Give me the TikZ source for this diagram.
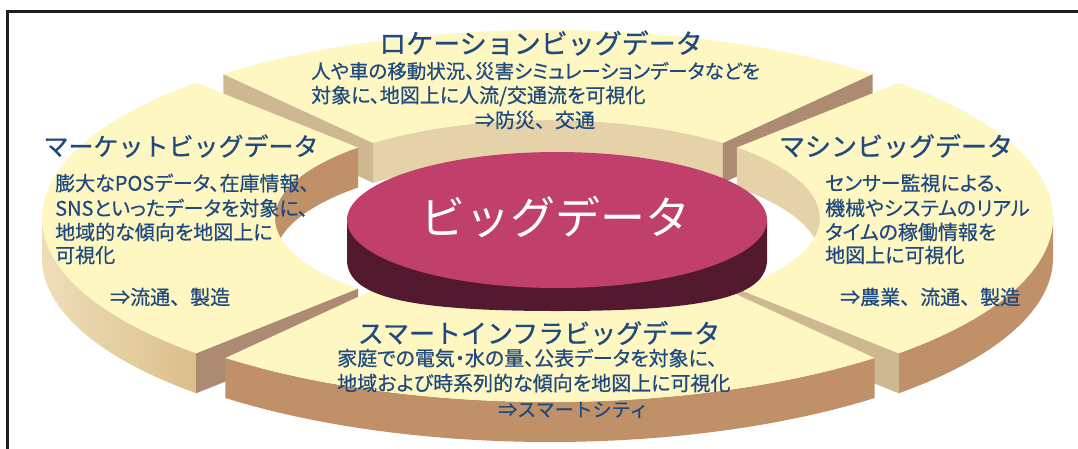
\documentclass[tikz,border=0pt]{standalone}
\usepackage{fontspec}
\setmainfont{Noto Sans CJK JP}
\newfontfamily\bodyjp{Noto Sans CJK JP}[RawFeature=+palt, FakeBold=0.6]
\newfontfamily\arrjp{Noto Sans CJK JP}[FakeBold=0.6]
\newfontfamily\titlejp{Noto Sans CJK JP}[FakeBold=0.8]
\newfontfamily\bigjp{Noto Sans CJK JP}
\definecolor{topY}{RGB}{255,247,193}
\definecolor{wallBrown}{RGB}{192,145,105}
\definecolor{wallLight}{RGB}{229,210,168}
\definecolor{faceTan}{RGB}{206,184,146}
\definecolor{faceDark}{RGB}{172,139,114}
\definecolor{mwallL}{RGB}{238,222,184}
\definecolor{mwallR}{RGB}{219,191,138}
\definecolor{discTop}{RGB}{193,64,107}
\definecolor{discSide}{RGB}{83,25,46}
\definecolor{txtBlue}{RGB}{31,74,128}
\definecolor{frameC}{RGB}{30,30,30}
% #1 style, #2 cx, #3 cy, #4 t1, #5 t2
\newcommand\RingTop[5]{%
  \fill[#1] plot[domain=#4:#5,samples=70] ({#2+505*cos(\x)},{#3-188*sin(\x)})
    -- plot[domain=#5:#4,samples=70] ({#2+272*cos(\x)},{#3-98*sin(\x)}) -- cycle;}
\newcommand\RingOuterWall[5]{%
  \fill[#1] plot[domain=#4:#5,samples=60] ({#2+505*cos(\x)},{#3-188*sin(\x)})
    -- plot[domain=#5:#4,samples=60] ({#2+505*cos(\x)},{#3-188*sin(\x)+40}) -- cycle;}
\newcommand\RingInnerWall[5]{%
  \fill[#1] plot[domain=#4:#5,samples=60] ({#2+272*cos(\x)},{#3-98*sin(\x)})
    -- plot[domain=#5:#4,samples=60] ({#2+272*cos(\x)},{#3-98*sin(\x)+40}) -- cycle;}
% #1 style, #2 cx, #3 cy, #4 angle
\newcommand\RingEnd[4]{%
  \fill[#1] ({#2+505*cos(#4)},{#3-188*sin(#4)}) -- ({#2+272*cos(#4)},{#3-98*sin(#4)})
    -- ({#2+272*cos(#4)},{#3-98*sin(#4)+40}) -- ({#2+505*cos(#4)},{#3-188*sin(#4)+40}) -- cycle;}
\tikzset{
  ttl/.style={text=txtBlue, inner sep=0pt, font=\titlejp\fontsize{26}{30}\selectfont},
  bodyl/.style={text=txtBlue, inner sep=0pt, anchor=west, font=\bodyjp\fontsize{20}{22}\selectfont},
  arrl/.style={text=txtBlue, inner sep=0pt, anchor=west, font=\arrjp\fontsize{20}{22}\selectfont},
}
\begin{document}
\begin{tikzpicture}[x=1pt,y=-1pt]
\useasboundingbox (0,0) rectangle (1078,448);
\fill[white] (0,0) rectangle (1078,448);
\draw[line width=2.2pt, frameC] (7.5,470) -- (7.5,11.5) -- (1100,11.5);

% location (back)
\RingInnerWall{wallLight}{548}{218}{50}{130}
\RingEnd{faceTan}{548}{218}{130}
\RingEnd{faceDark}{548}{218}{50}
\RingTop{topY}{548}{218}{50}{130}

% market (left)
\shade[left color=mwallL, right color=mwallR]
  plot[domain=180:226,samples=50] ({547+505*cos(\x)},{218-188*sin(\x)})
  -- plot[domain=226:180,samples=50] ({547+505*cos(\x)},{218-188*sin(\x)+40}) -- cycle;
\RingInnerWall{wallBrown}{547}{218}{134}{180}
\RingEnd{faceDark}{547}{218}{226}
\RingTop{topY}{547}{218}{134}{226}

% machine (right)
\RingOuterWall{wallBrown}{548}{218}{-46}{0}
\RingInnerWall{wallLight}{548}{218}{0}{46}
\RingEnd{faceTan}{548}{218}{-46}
\RingTop{topY}{548}{218}{-46}{46}

% smart (front)
\RingOuterWall{wallBrown}{550}{214}{230}{310}
\RingTop{topY}{550}{214}{230}{310}

% central disc
\fill[discSide] (347,220) -- (347,262) .. controls (350,295) and (400,311) .. (557,311)
  .. controls (714,311) and (764,295) .. (767,262) -- (767,220) -- cycle;
\fill[discTop] (557,220) ellipse [x radius=210pt, y radius=68pt];
\node[inner sep=0pt, text=white, font=\bigjp\fontsize{45}{50}\selectfont] (big) at (555,217) {ビッグデータ};

% location texts
\node[ttl, font=\titlejp\fontsize{27}{30}\selectfont] (locT) at (541,43) {ロケーションビッグデータ};
\node[bodyl, font=\bodyjp\fontsize{19.5}{22}\selectfont] (loc1) at (311,71) {人や車の移動状況、災害シミュレーションデータなどを};
\node[bodyl] (loc2) at (311,96) {対象に、地図上に人流/交通流を可視化};
\node[arrl, anchor=center] (loc3) at (535,120) {⇒防災、交通};

% market texts
\node[ttl, font=\titlejp\fontsize{25}{30}\selectfont] (mktT) at (181,146) {マーケットビッグデータ};
\node[bodyl] (mkt1) at (55,183) {膨大なPOSデータ、在庫情報、};
\node[bodyl] (mkt2) at (55,208) {SNSといったデータを対象に、};
\node[bodyl] (mkt3) at (55,232) {地域的な傾向を地図上に};
\node[bodyl] (mkt4) at (55,255) {可視化};
\node[arrl] (mkt5) at (110,297) {⇒流通、製造};

% machine texts
\node[ttl] (macT) at (896,146) {マシンビッグデータ};
\node[bodyl] (mac1) at (825,183) {センサー監視による、};
\node[bodyl] (mac2) at (825,208) {機械やシステムのリアル};
\node[bodyl] (mac3) at (825,232) {タイムの稼働情報を};
\node[bodyl] (mac4) at (825,255) {地図上に可視化};
\node[arrl] (mac5) at (840,297) {⇒農業、流通、製造};

% smart texts
\node[ttl] (smT) at (539,333) {スマートインフラビッグデータ};
\node[bodyl] (sm1) at (337,358) {家庭での電気・水の量、公表データを対象に、};
\node[bodyl] (sm2) at (337,383) {地域および時系列的な傾向を地図上に可視化};
\node[arrl, font=\arrjp\fontsize{19}{22}\selectfont] (sm3) at (498,410) {⇒スマートシティ};
\end{tikzpicture}
\end{document}
